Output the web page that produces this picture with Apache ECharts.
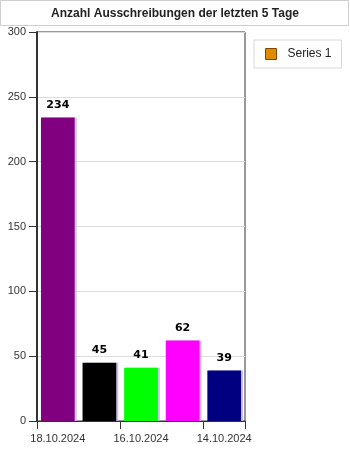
<!DOCTYPE html>
<html><head><meta charset="utf-8">
<script src="https://cdn.jsdelivr.net/npm/echarts@6/dist/echarts.min.js"></script>
<style>html,body{margin:0;padding:0;background:#fff}#c{width:350px;height:450px}</style>
</head><body><div id="c"></div>
<script>
const categories = ['18.10.2024','17.10.2024','16.10.2024','15.10.2024','14.10.2024'];
const values = [234, 45, 41, 62, 39];
const barColors = ['#800080','#000000','#00ff00','#ff00ff','#000080'];
const seriesName = 'Series 1';
const titleText = 'Anzahl Ausschreibungen der letzten 5 Tage';

const chart = echarts.init(document.getElementById('c'), null, {renderer:'canvas'});
const font = '"Liberation Sans", Arial, sans-serif';
chart.setOption({
  animation:false,
  backgroundColor:'#fff',
  textStyle:{fontFamily:font},
  graphic:[
    {type:'rect', shape:{x:0.5,y:0.5,width:348,height:25}, style:{fill:'#fff',stroke:'#cfcfcf',lineWidth:1}, z:0},
    {type:'text', x:175, y:14, style:{text:titleText, fontFamily:font, fontSize:12, fontWeight:'bold', fill:'#222', align:'center', verticalAlign:'middle'}}
  ],
  legend:{
    left:254, top:40, orient:'vertical',
    data:[seriesName],
    borderColor:'#d8d8d8', borderWidth:1, borderRadius:0,
    padding:[8,10,8,11], itemWidth:11, itemHeight:11, itemGap:5,
    icon:'rect',
    textStyle:{fontFamily:font, fontSize:12, color:'#222', padding:[0,0,0,6]},
    itemStyle:{color:'#e08a00', borderColor:'#7a4a00', borderWidth:1}
  },
  grid:{left:37, top:32, width:208, height:389, show:true, borderColor:'#333', borderWidth:1, containLabel:false},
  xAxis:{
    type:'category', data:categories,
    axisLine:{lineStyle:{color:'#333', width:1}},
    axisTick:{show:true, interval:1, length:8, lineStyle:{color:'#333'}},
    axisLabel:{interval:1, margin:12, color:'#333', fontSize:11, fontFamily:font}
  },
  yAxis:{
    type:'value', min:0, max:300, interval:50,
    axisLine:{show:true, lineStyle:{color:'#333', width:2}},
    axisTick:{show:true, length:8, lineStyle:{color:'#333'}},
    axisLabel:{color:'#333', fontSize:11, margin:11, fontFamily:font},
    splitLine:{lineStyle:{color:'#dcdcdc'}}
  },
  series:[{
    name:seriesName, type:'bar', barCategoryGap:'19%',
    itemStyle:{color:'#e08a00', shadowColor:'rgba(200,180,240,0.9)', shadowOffsetX:2, shadowBlur:0},
    data: values.map((v,i)=>({value:v, itemStyle:{color:barColors[i]}})),
    label:{show:true, position:'top', distance:7, color:'#000', fontSize:11, fontWeight:'bold', fontFamily:'"DejaVu Sans", sans-serif'}
  }]
});
</script></body></html>
